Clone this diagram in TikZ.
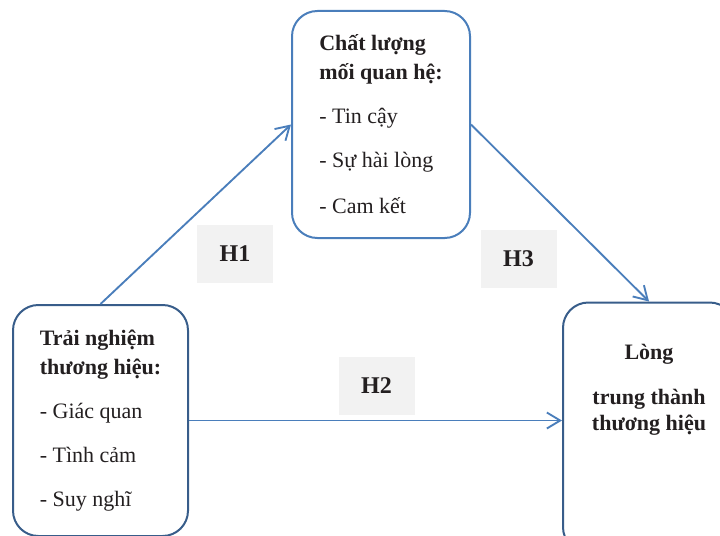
\documentclass[tikz,border=0pt]{standalone}
\usepackage{fontspec}
\setmainfont{Liberation Serif}
\usepackage{xcolor}
\usepackage{tikz}
\usetikzlibrary{arrows.meta,positioning}
\definecolor{boxblue}{HTML}{4A7EBB}
\definecolor{boxnavy}{HTML}{385D8A}
\definecolor{hypgray}{HTML}{F2F2F2}
\definecolor{inkblack}{HTML}{231F20}

\begin{document}
\begin{tikzpicture}[
x=0.75pt, y=-0.75pt,
font=\fontsize{16.5}{21.75}\selectfont,
text=inkblack,
construct/.style={draw=boxnavy, line width=1.5pt, rounded corners=19pt, align=left, inner sep=0pt},
hyp/.style={fill=hypgray, minimum width=57pt, minimum height=43.5pt, font=\fontsize{18}{21}\selectfont\bfseries},
arr/.style={-{Straight Barb[length=10pt,width=12pt]}, draw=boxblue, line width=1.4pt}
]
\clip (0,0) rectangle (720,535);
\node[construct, minimum width=131.25pt, minimum height=173.25pt] (exp) at (100.5,420.5) {\textbf{Trải nghiệm}\\\textbf{thương hiệu:}\\[11.25pt]- Giác quan\\[11.25pt]- Tình cảm\\[11.25pt]- Suy nghĩ};
\node[construct, draw=boxblue, minimum width=133.5pt, minimum height=170.25pt, above right=48.75pt and 76.5pt of exp] (qual) {\textbf{Chất lượng}\\\textbf{mối quan hệ:}\\[11.25pt]- Tin cậy\\[11.25pt]- Sự hài lòng\\[12.75pt]- Cam kết};
\node[construct, minimum width=129pt, minimum height=187.5pt, right=279.75pt of exp, yshift=-5.25pt] (loyal) {};
\node[below=32pt of loyal.north, align=center, inner sep=0pt, font=\fontsize{16.5}{21.75}\selectfont\bfseries] (loyaltxt) {Lòng\\[12pt]trung thành\\[-2.25pt]thương hiệu};
\node[hyp] (h1) at (235,254) {H1};
\node[hyp] (h2) at (376.5,386) {H2};
\node[hyp] (h3) at (518.5,258.5) {H3};
\draw[arr] (exp.north) -- (qual.west);
\draw[arr] (exp.east) -- (exp.east -| loyal.west);
\draw[arr] (qual.east) -- (loyal.north);
\end{tikzpicture}
\end{document}
